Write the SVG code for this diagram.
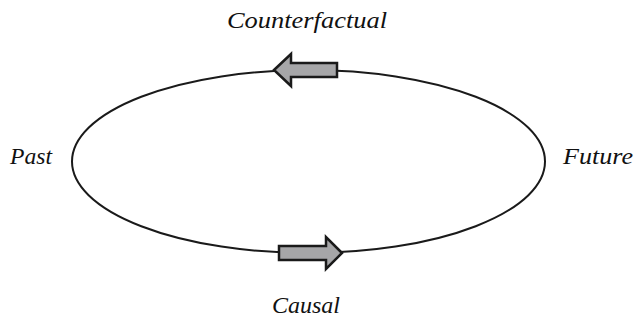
<svg xmlns="http://www.w3.org/2000/svg" width="635" height="321" viewBox="0 0 635 321">
<style>
.lbl{font-family:"Liberation Serif","Times New Roman",serif;font-style:italic;font-size:24px;fill:#111}
.arrow{fill:#a6a6a8;stroke:#1a1a1a;stroke-width:2.5;stroke-linejoin:miter}
</style>
<rect width="635" height="321" fill="#fff"/>
<g id="connectors">
<ellipse cx="308.5" cy="161.5" rx="236.5" ry="91.5" fill="none" stroke="#1a1a1a" stroke-width="2"/>
</g>
<g id="arrow-top">
<polygon class="arrow" points="274,70 291,54 291,63 337,63 337,77 291,77 291,86"/>
</g>
<g id="arrow-bottom">
<polygon class="arrow" points="342,253 326,237 326,246 279,246 279,260 326,260 326,269"/>
</g>
<g id="counterfactual"><text class="lbl" x="307" y="28" text-anchor="middle" textLength="160" lengthAdjust="spacingAndGlyphs">Counterfactual</text></g>
<g id="causal"><text class="lbl" x="306" y="313" text-anchor="middle" textLength="68" lengthAdjust="spacingAndGlyphs">Causal</text></g>
<g id="past"><text class="lbl" x="10" y="164" textLength="42" lengthAdjust="spacingAndGlyphs">Past</text></g>
<g id="future"><text class="lbl" x="563" y="164" textLength="70" lengthAdjust="spacingAndGlyphs">Future</text></g>
</svg>
